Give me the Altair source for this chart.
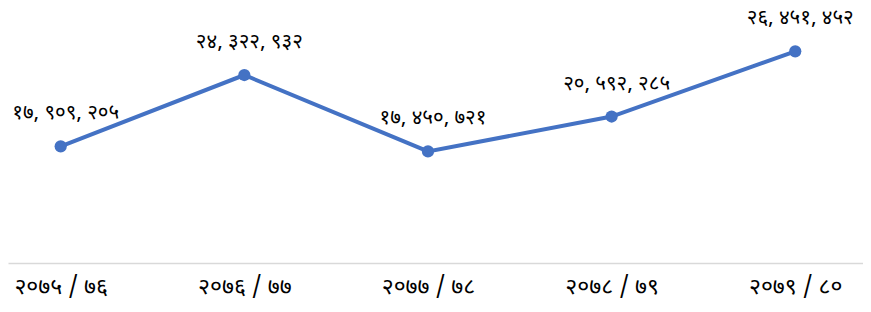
import altair as alt
import pandas as pd

years = ["२०७५ / ७६", "२०७६ / ७७", "२०७७ / ७८", "२०७८ / ७९", "२०७९ / ८०"]
values = [17909205, 24322932, 17450721, 20592285, 26451452]
labels = ["१७, ९०९, २०५", "२४, ३२२, ९३२", "१७, ४५०, ७२१", "२०, ५९२, २८५", "२६, ४५१, ४५२"]

df = pd.DataFrame({"idx": list(range(len(years))), "year": years, "value": values, "label": labels})

FONT = "Noto Sans Devanagari, Noto Sans, sans-serif"
COLOR = "#4472C4"

label_expr = "[" + ",".join(f"'{y}'" for y in years) + "][datum.value]"

x = alt.X("idx:Q",
          scale=alt.Scale(domain=[-0.287, 4.369], nice=False, zero=False),
          axis=alt.Axis(values=list(range(len(years))), labelExpr=label_expr, title=None,
                        grid=False, ticks=False, domain=True, domainColor="#d9d9d9",
                        domainWidth=1.5, labelFont=FONT, labelFontSize=23, labelColor="#000000",
                        labelPadding=12, labelFlush=False))
y = alt.Y("value:Q", scale=alt.Scale(domain=[7420000, 30350000], nice=False, zero=False),
          axis=None)

base = alt.Chart(df).encode(x=x, y=y)

line = base.mark_line(color=COLOR, strokeWidth=4)
pts = base.mark_point(color=COLOR, filled=True, size=150, opacity=1)
txt = base.mark_text(font=FONT, fontSize=20.5, color="#000000", baseline="alphabetic",
                     align="center", dx=5, dy=-27).encode(text="label:N")

chart = alt.layer(line, pts, txt).properties(
    width=855, height=255,
    autosize=alt.AutoSizeParams(type="none"),
    padding={"left": 0, "top": 0, "right": 0, "bottom": 45},
).configure_view(stroke=None)

chart.save("out.html", embed_options={"renderer": "svg", "actions": False})
